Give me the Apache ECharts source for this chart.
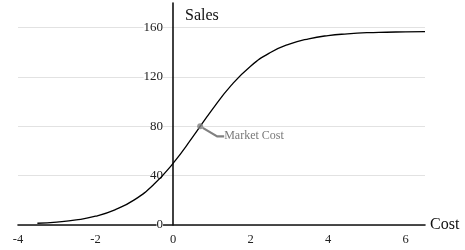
<!DOCTYPE html>
<html>
<head>
<meta charset="utf-8">
<script src="https://cdn.jsdelivr.net/npm/echarts@6/dist/echarts.min.js"></script>
<style>html,body{margin:0;padding:0;background:#fff}#c{width:465px;height:250px}</style>
</head>
<body>
<div id="c"></div>
<script>
var costValues = [-3.5, -3, -2.5, -2, -1.5, -1, -0.5, 0, 0.5, 1, 1.5, 2, 2.5, 3, 3.5, 4, 4.5, 5, 5.5, 6, 6.5];
var salesValues = [1.4, 2.4, 4.1, 7.1, 12.3, 20.4, 32.8, 50, 71, 93.2, 113.2, 128.8, 139.7, 146.7, 151, 153.6, 155, 155.9, 156.3, 156.6, 156.8];
var marketCost = [0.7, 80];
var marketLabel = 'Market Cost';
var xName = 'Cost';
var yName = 'Sales';

var serif = '"Liberation Serif", "DejaVu Serif", serif';
var gridLeft = 18;
var chart = echarts.init(document.getElementById('c'), null, {renderer: 'canvas'});
var option = {
  animation: false,
  grid: {left: gridLeft, right: 40, top: 3, bottom: 25, containLabel: false, outerBoundsMode: 'none'},
  xAxis: {
    type: 'value', min: -4, max: 6.5, interval: 2,
    name: xName, nameLocation: 'end', nameGap: 5,
    nameTextStyle: {fontFamily: serif, fontSize: 16, color: '#111'},
    axisLine: {show: true, lineStyle: {color: '#111', width: 1.6}},
    axisTick: {show: false},
    splitLine: {show: false},
    axisLabel: {fontFamily: serif, fontSize: 12.5, color: '#222', margin: 8, showMaxLabel: false}
  },
  yAxis: {
    type: 'value', min: 0, max: 180, interval: 40, offset: 0,
    name: yName, nameLocation: 'end', nameGap: -21,
    nameTextStyle: {fontFamily: serif, fontSize: 16, color: '#111', align: 'left', padding: [0, 0, 0, 12]},
    axisLine: {show: true, onZero: false, lineStyle: {color: '#111', width: 1.6}},
    axisTick: {show: false},
    splitLine: {show: true, showMaxLine: false, lineStyle: {color: '#e2e2e2', width: 1}},
    axisLabel: {fontFamily: serif, fontSize: 13, color: '#222', margin: 10, showMaxLabel: false, backgroundColor: '#fff'}
  },
  series: [
    {
      type: 'line', smooth: true, showSymbol: false, symbol: 'none',
      data: costValues.map(function (x, i) { return [x, salesValues[i]]; }),
      lineStyle: {color: '#000', width: 1.3},
      z: 3
    },
    {
      type: 'scatter', symbol: 'circle', symbolSize: 6,
      data: [marketCost],
      itemStyle: {color: '#808080'},
      label: {show: true, position: 'right', formatter: marketLabel, fontFamily: serif, fontSize: 12, color: '#555', padding: [0, 0, 0, 2]},
      labelLayout: {dx: 14, dy: 10},
      labelLine: {show: true, length2: 7, lineStyle: {color: '#808080', width: 2.2}},
      z: 4
    }
  ]
};
chart.setOption(option);
// place the y axis at x = 0 (with its labels), as in the reference
var zeroPx = chart.convertToPixel({xAxisIndex: 0}, 0);
chart.setOption({yAxis: {offset: gridLeft - zeroPx}});
</script>
</body>
</html>
